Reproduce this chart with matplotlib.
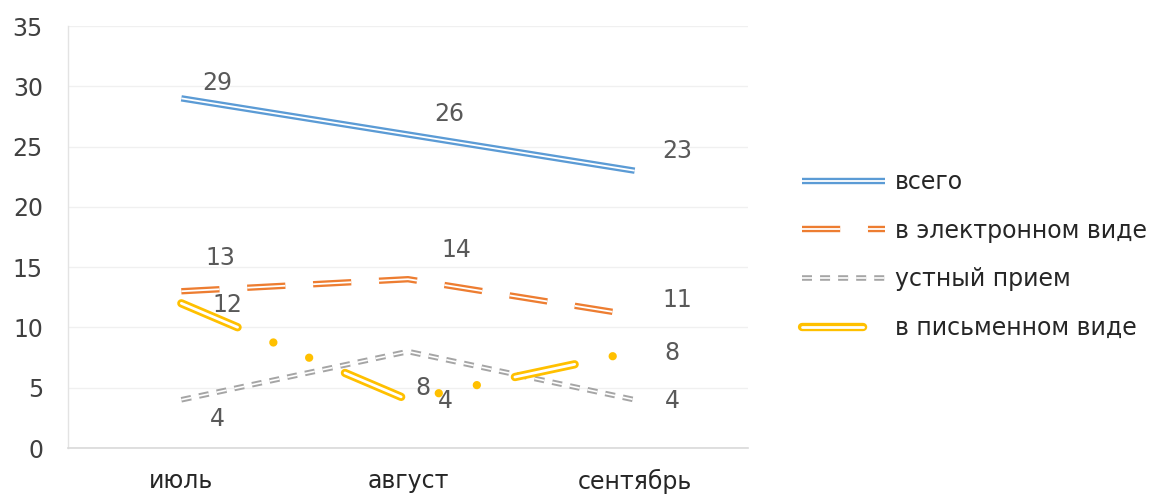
import matplotlib
matplotlib.use('Agg')
import matplotlib.pyplot as plt
from matplotlib.legend_handler import HandlerTuple

plt.rcParams.update({
    'font.family': 'DejaVu Sans',
    'font.size': 17,
    'lines.scale_dashes': False,
})

months = ['июль', 'август', 'сентябрь']
series_names = ['всего', 'в электронном виде', 'устный прием', 'в письменном виде']
total = [29, 26, 23]
electronic = [13, 14, 11]
oral = [4, 8, 4]
written = [12, 4, 8]

# colour, outer lw, inner lw, dash pattern (outer), dash pattern (inner), capstyle
styles = [
    ('#5B9BD5', 4.6, 1.3, '-', '-', 'butt'),
    ('#ED7D31', 4.6, 1.3, (0, (27.5, 20.0)), (0, (27.5, 20.0)), 'butt'),
    ('#A5A5A5', 4.0, 1.2, (0, (7.2, 5.8)), (0, (7.2, 5.8)), 'butt'),
    ('#FFC000', 6.0, 2.0, (0, (44, 28, 0.01, 28, 0.01, 28)),
     (0, (44, 84.02)), 'round'),
]

# data label offsets in points (per point)
label_offsets = [
    [(26, 11), (30, 15), (31, 14)],
    [(28, 24), (35, 21), (31, 11)],
    [(26, -14), (11, -26), (27, -1)],
    [(33, -1), (27, -1), (27, -1)],
]

fig = plt.figure(figsize=(11.57, 4.94), dpi=100)
ax = fig.add_axes([68 / 1157, 46 / 494, 680 / 1157, 422 / 494])

x = list(range(len(months)))
handles = []
for vals, (col, lw_o, lw_i, ls_o, ls_i, cap), offs in zip(
        [total, electronic, oral, written], styles, label_offsets):
    outer, = ax.plot(x, vals, color=col, lw=lw_o, ls=ls_o,
                     dash_capstyle=cap, solid_capstyle=cap, zorder=3)
    inner, = ax.plot(x, vals, color='white', lw=lw_i, ls=ls_i,
                     dash_capstyle=cap, solid_capstyle=cap, zorder=3)
    handles.append((outer, inner))
    for xi, v, (dx, dy) in zip(x, vals, offs):
        ax.annotate(str(v), (xi, v), xytext=(dx, dy), textcoords='offset points',
                    ha='center', va='center', color='#595959', fontsize=17,
                    zorder=5)

ax.set_xlim(-0.5, 2.5)
ax.set_ylim(0, 35)
ax.set_yticks(range(0, 36, 5))
ax.set_xticks(x)
ax.set_xticklabels(months)
ax.tick_params(axis='y', length=0, pad=18, colors='#404040')
ax.tick_params(axis='x', length=0, pad=15, colors='#262626')
ax.grid(axis='y', color='#F0F0F0', lw=1.0)
ax.set_axisbelow(True)
for s in ['top', 'right']:
    ax.spines[s].set_visible(False)
ax.spines['left'].set_color('#E3E3E3')
ax.spines['bottom'].set_color('#D9D9D9')
ax.spines['left'].set_linewidth(1.0)
ax.spines['bottom'].set_linewidth(1.2)

fig.legend(handles, series_names, handler_map={tuple: HandlerTuple(ndivide=1)},
           loc='center left', bbox_to_anchor=(802 / 1157, 1 - 255 / 494),
           frameon=False, borderpad=0, borderaxespad=0, handlelength=3.5,
           handletextpad=0.45, labelspacing=1.05, fontsize=17,
           labelcolor='#262626')

fig.savefig('out.png', dpi=100)
